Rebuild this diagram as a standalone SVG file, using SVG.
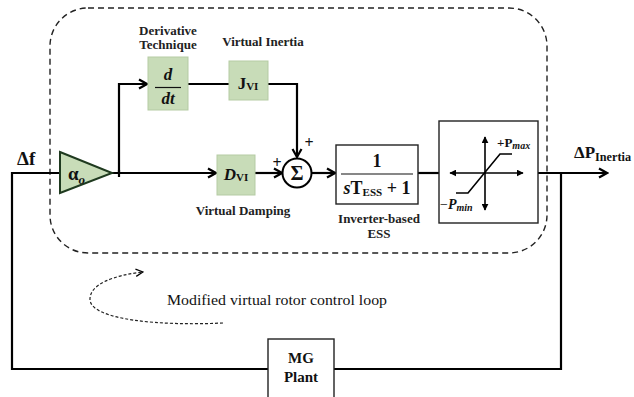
<svg xmlns="http://www.w3.org/2000/svg" width="634" height="397" viewBox="0 0 634 397">
<style>
.ln{fill:none;stroke:#000;stroke-width:2.2}
.thin{fill:none;stroke:#000;stroke-width:1.6}
.dash{fill:none;stroke:#222;stroke-width:1.4;stroke-dasharray:6,4}
.dash2{fill:none;stroke:#222;stroke-width:1.2;stroke-dasharray:3,2}
.box{fill:#fff;stroke:#222;stroke-width:1.4}
.gbox{fill:#c8dcb8;stroke:#b5cba4;stroke-width:1}
.t{font-family:"Liberation Serif",serif;fill:#111}
.lab{font-family:"Liberation Serif",serif;font-weight:bold;font-size:13px;fill:#222}
.m{font-family:"Liberation Serif",serif;font-weight:bold;fill:#111}
</style>
<defs>
<marker id="arr" viewBox="0 0 12 12" refX="10" refY="6" markerWidth="12" markerHeight="12" markerUnits="userSpaceOnUse" orient="auto">
<path d="M2,1.5 L10,6 L2,10.5" fill="none" stroke="#000" stroke-width="2.2"/>
</marker>
<marker id="tri" viewBox="0 0 10 10" refX="9" refY="5" markerWidth="7" markerHeight="7" markerUnits="userSpaceOnUse" orient="auto">
<path d="M0,0 L10,5 L0,10 Z" fill="#000"/>
</marker>
<marker id="sarr" viewBox="0 0 10 10" refX="9" refY="5" markerWidth="9" markerHeight="9" markerUnits="userSpaceOnUse" orient="auto">
<path d="M1,1 L9,5 L1,9" fill="none" stroke="#000" stroke-width="1.4"/>
</marker>
</defs>

<rect class="dash" x="50" y="8" width="497" height="245" rx="38" ry="38"/>

<g id="connectors">
<path class="ln" d="M561,173 V369 H334"/>
<path class="ln" d="M268,369 H12 V173 H60"/>
<path class="ln" d="M112,173 H216" marker-end="url(#arr)"/>
<path class="ln" d="M119,173 V84 H147" marker-end="url(#arr)"/>
<path class="ln" d="M119,170 V177"/>
<path class="ln" d="M188,84 H229"/>
<path class="ln" d="M268,84 H297 V157" marker-end="url(#arr)"/>
<path class="ln" d="M255,173 H282" marker-end="url(#arr)"/>
<path class="ln" d="M312,173 H335" marker-end="url(#arr)"/>
<path class="ln" d="M418,173 H439"/>
<path class="ln" d="M538,173 H607" marker-end="url(#arr)"/>
<path class="dash2" d="M223,323 C160,326 92,320 90,300 C89,284 115,275 143,272" marker-end="url(#sarr)"/>
</g>

<g id="input">
<text class="t" x="17" y="165" font-size="19" font-weight="bold">Δf</text>
</g>

<g id="gain">
<path d="M60,152 L112,173 L60,193 Z" fill="#c8dcb8" stroke="#1f3a1f" stroke-width="2"/>
<text class="t" x="68" y="180" font-size="19" font-weight="bold">α<tspan font-size="13" font-style="italic" dy="4">o</tspan></text>
</g>

<g id="derivative">
<rect class="gbox" x="148" y="57" width="40" height="53"/>
<text class="m" x="168" y="80" font-size="17" font-style="italic" text-anchor="middle">d</text>
<line x1="155" y1="87.5" x2="181" y2="87.5" stroke="#111" stroke-width="1.2"/>
<text class="m" x="168" y="104" font-size="17" font-style="italic" text-anchor="middle">dt</text>
<text class="lab" x="168" y="35" text-anchor="middle">Derivative</text>
<text class="lab" x="168" y="49" text-anchor="middle">Technique</text>
</g>

<g id="inertia">
<rect class="gbox" x="229" y="61" width="39" height="39"/>
<text class="m" x="248" y="89" font-size="17" text-anchor="middle">J<tspan font-size="11" dy="1">VI</tspan></text>
<text class="lab" x="263" y="46" text-anchor="middle">Virtual Inertia</text>
</g>

<g id="damping">
<rect class="gbox" x="217" y="155" width="38" height="40"/>
<text class="m" x="236" y="180" font-size="17" text-anchor="middle"><tspan font-style="italic">D</tspan><tspan font-size="11" dy="1">VI</tspan></text>
<text class="lab" x="243" y="215" text-anchor="middle">Virtual Damping</text>
</g>

<g id="sum">
<circle cx="297" cy="173" r="14.5" fill="#fff" stroke="#000" stroke-width="2"/>
<text class="m" x="297" y="180" font-size="20" text-anchor="middle">Σ</text>
<text class="m" x="309" y="148" font-size="16" text-anchor="middle">+</text>
<text class="m" x="277" y="168" font-size="16" text-anchor="middle">+</text>
</g>

<g id="ess">
<rect class="box" x="336" y="145" width="82" height="59"/>
<text class="m" x="377" y="167" font-size="18" text-anchor="middle">1</text>
<line x1="341" y1="174" x2="413" y2="174" stroke="#111" stroke-width="1.2"/>
<text class="m" x="377" y="194" font-size="18" text-anchor="middle"><tspan font-style="italic">s</tspan>T<tspan font-size="11" dy="2">ESS</tspan><tspan dy="-2"> + 1</tspan></text>
<text class="lab" x="379" y="223" text-anchor="middle">Inverter-based</text>
<text class="lab" x="379" y="238" text-anchor="middle">ESS</text>
</g>

<g id="saturation">
<rect class="box" x="439" y="121" width="99" height="102"/>
<path class="thin" d="M485,173 L450,173" marker-end="url(#tri)"/>
<path class="thin" d="M485,173 L523,173" marker-end="url(#tri)"/>
<path class="thin" d="M485,173 L485,137" marker-end="url(#tri)"/>
<path class="thin" d="M485,173 L485,210" marker-end="url(#tri)"/>
<path class="thin" d="M456,193 H468 L500,154 H512"/>
<text class="m" x="497" y="147" font-size="13">+P<tspan font-size="10" font-style="italic" dy="2">max</tspan></text>
<text class="m" x="440" y="209" font-size="14"><tspan font-weight="normal">−</tspan><tspan font-style="italic">P</tspan><tspan font-size="10" font-style="italic" dy="2">min</tspan></text>
</g>

<g id="output">
<text class="m" x="574" y="158" font-size="17">ΔP<tspan font-size="12" dy="3" textLength="36" lengthAdjust="spacingAndGlyphs">Inertia</tspan></text>
</g>

<g id="plant">
<rect class="box" x="268" y="339" width="66" height="70"/>
<text class="m" x="301" y="363" font-size="15" text-anchor="middle">MG</text>
<text class="m" x="301" y="382" font-size="15" text-anchor="middle">Plant</text>
</g>

<text class="t" x="167" y="305" font-size="15" textLength="220" lengthAdjust="spacingAndGlyphs">Modified virtual rotor control loop</text>
</svg>
